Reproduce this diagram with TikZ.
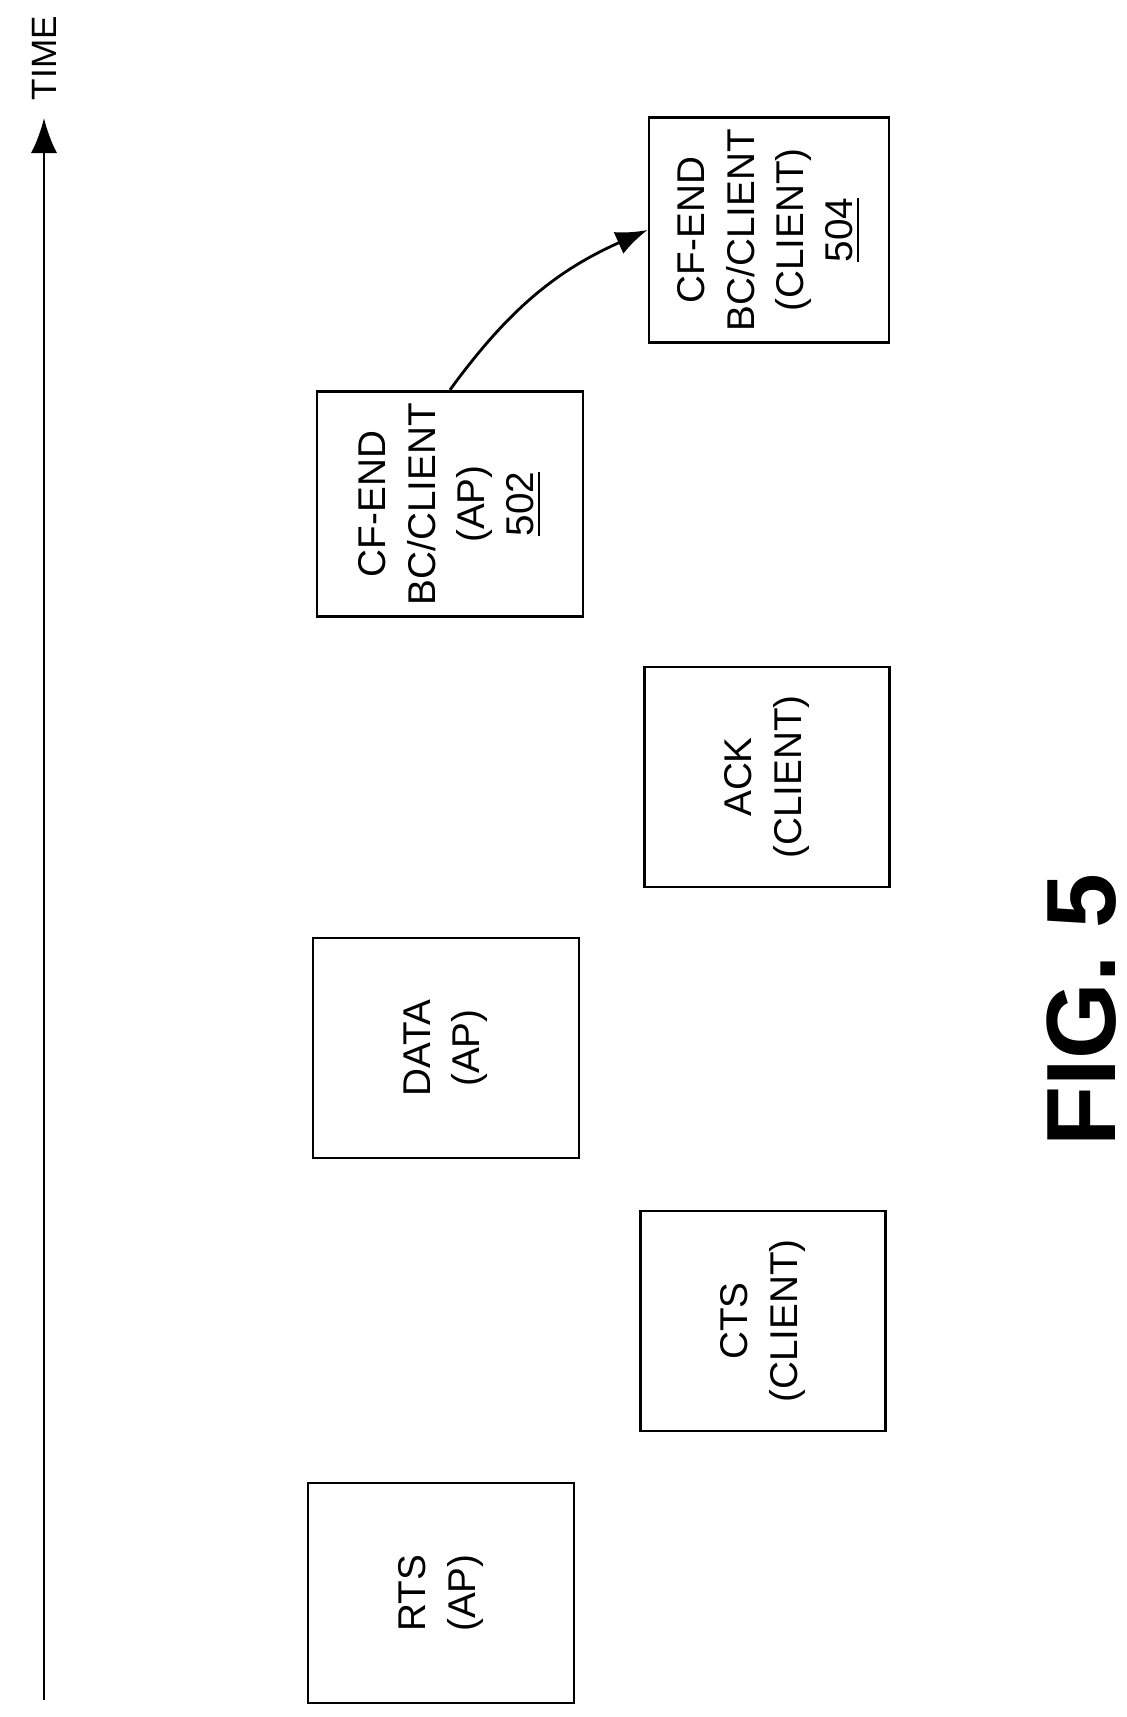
\documentclass[tikz,border=0pt]{standalone}
\usepackage{fontspec}
\setmainfont{Liberation Sans}
\usetikzlibrary{arrows.meta}

\begin{document}
\begin{tikzpicture}[
		x=0.01cm, y=-0.01cm,
		frame/.style={draw, thick, rotate=90, align=center, minimum width=2.2cm, minimum height=2.45cm, font=\fontsize{11}{14}\selectfont},
		wide/.style={minimum height=2.66cm}
	]
		\useasboundingbox (0,0) rectangle (1127,1717);
		% time axis
		\coordinate (t0) at (44,1700);
		\coordinate (t1) at (44,118);
		\draw[thick, -{Latex[length=10pt]}] (t0) -- (t1);
		\node[rotate=90, font=\fontsize{10}{12}\selectfont] (time) at (44,58) {TIME};

		\node[frame, wide] (rts) at (441,1593) {RTS\\(AP)};
		\node[frame] (cts) at (763,1321) {CTS\\(CLIENT)};
		\node[frame, wide] (data) at (446,1048) {DATA\\(AP)};
		\node[frame] (ack) at (767,777) {ACK\\(CLIENT)};
		\node[frame, wide] (cfap) at (450,504) {CF-END\\BC/CLIENT\\(AP)\\\underline{502}};
		\node[frame, minimum height=2.4cm] (cfcl) at (769,230) {CF-END\\BC/CLIENT\\(CLIENT)\\\underline{504}};

		\draw[thick, -{Latex[length=9pt]}] (cfap.east) to[bend left=15] (cfcl.north);

		\node[rotate=90, font=\bfseries\fontsize{28}{32}\selectfont] (fig) at (1082,1010) {FIG. 5};
	\end{tikzpicture}
\end{document}
